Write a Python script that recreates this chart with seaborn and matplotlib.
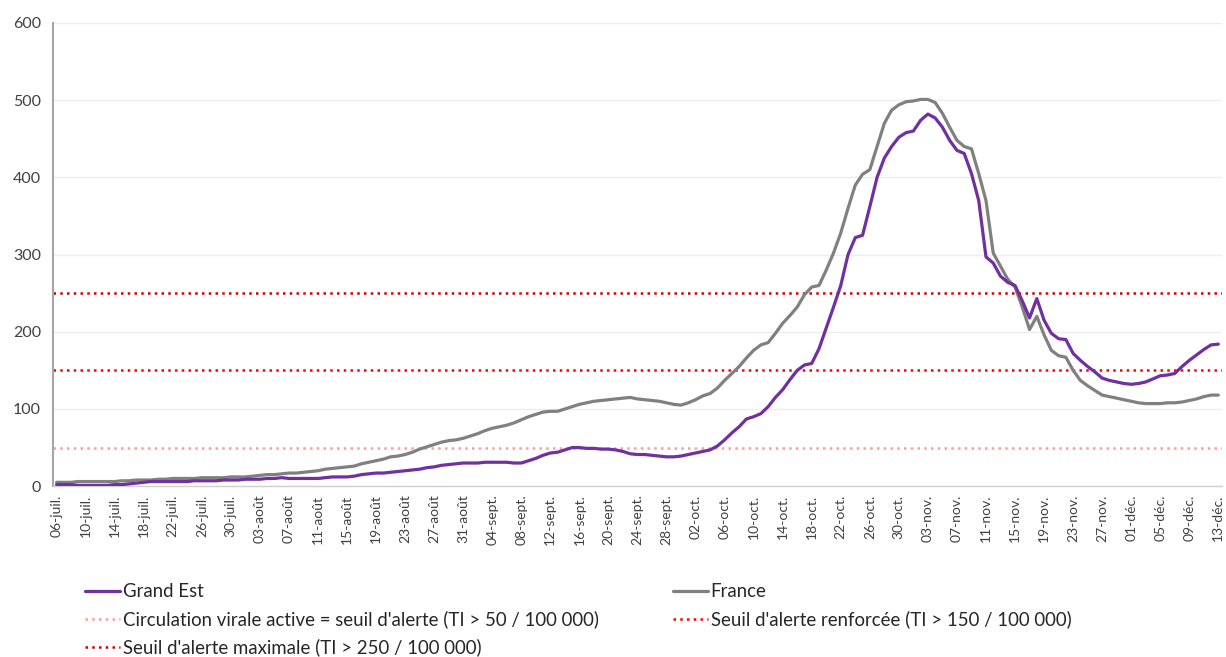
import pandas as pd
import matplotlib.pyplot as plt
import seaborn as sns
from matplotlib.lines import Line2D
from matplotlib.ticker import FixedLocator, MultipleLocator

# Taux d'incidence glissant (pour 100 000 hab.), du 06-juil. au 13-déc. 2020
start = "2020-07-06"

grand_est = [
    2, 2, 2, 1, 1, 1, 1, 1, 2, 2,
    3, 4, 5, 6, 6, 6, 6, 6, 6, 7,
    7, 7, 7, 8, 8, 8, 9, 9, 9, 10,
    10, 11, 10, 10, 10, 10, 10, 11, 12, 12,
    12, 13, 15, 16, 17, 17, 18, 19, 20, 21,
    22, 24, 25, 27, 28, 29, 30, 30, 30, 31,
    31, 31, 31, 30, 30, 33, 36, 40, 43, 44,
    47, 50, 50, 49, 49, 48, 48, 47, 45, 42,
    41, 41, 40, 39, 38, 38, 39, 41, 43, 45,
    47, 52, 60, 69, 77, 87, 90, 94, 103, 115,
    125, 138, 150, 157, 159, 178, 205, 232, 260, 300,
    322, 325, 362, 400, 425, 440, 452, 458, 460, 474,
    482, 477, 465, 448, 435, 431, 405, 370, 297, 289,
    272, 264, 260, 240, 218, 243, 215, 198, 191, 190,
    172, 163, 155, 148, 140, 137, 135, 133, 132, 133,
    135, 139, 143, 144, 146, 155, 163, 170, 177, 183, 184,
]

france = [
    5, 5, 5, 6, 6, 6, 6, 6, 6, 7,
    7, 8, 8, 8, 9, 9, 10, 10, 10, 10,
    11, 11, 11, 11, 12, 12, 12, 13, 14, 15,
    15, 16, 17, 17, 18, 19, 20, 22, 23, 24,
    25, 26, 29, 31, 33, 35, 38, 39, 41, 44,
    48, 51, 54, 57, 59, 60, 62, 65, 68, 72,
    75, 77, 79, 82, 86, 90, 93, 96, 97, 97,
    100, 103, 106, 108, 110, 111, 112, 113, 114, 115,
    113, 112, 111, 110, 108, 106, 105, 108, 112, 117,
    120, 127, 137, 146, 155, 166, 176, 183, 186, 198,
    211, 221, 232, 248, 258, 260, 280, 302, 328, 360,
    390, 404, 410, 440, 470, 487, 494, 498, 499, 501,
    501, 497, 483, 465, 448, 440, 437, 405, 370, 302,
    285, 268, 258, 232, 203, 220, 196, 176, 169, 167,
    150, 137, 130, 124, 118, 116, 114, 112, 110, 108,
    107, 107, 107, 108, 108, 109, 111, 113, 116, 118, 118,
]

seuils = [50, 150, 250]
seuil_labels = [
    "Circulation virale active = seuil d'alerte (TI > 50 / 100 000)",
    "Seuil d'alerte renforcée (TI > 150 / 100 000)",
    "Seuil d'alerte maximale (TI > 250 / 100 000)",
]
seuil_colors = ["#FF9C9C", "#FF0000", "#D00000"]

mois = {7: "juil.", 8: "août", 9: "sept.", 10: "oct.", 11: "nov.", 12: "déc."}
dates = pd.date_range(start, periods=len(grand_est))
labels = [f"{d.day:02d}-{mois[d.month]}" for d in dates]

df = pd.DataFrame({"jour": range(len(dates)), "Grand Est": grand_est, "France": france})

sns.set_style("white")
plt.rcParams["font.family"] = ["Lato", "DejaVu Sans"]

fig = plt.figure(figsize=(12.26, 6.57), dpi=100)
ax = fig.add_axes([0.0432, 0.260, 0.9535, 0.705])

dot = (0, (1, 1.7))
for v, c in zip(seuils, seuil_colors):
    ax.axhline(v, color=c, ls=dot, lw=1.8, zorder=2)

sns.lineplot(data=df, x="jour", y="France", color="#808080", lw=2.3, ax=ax, zorder=3)
sns.lineplot(data=df, x="jour", y="Grand Est", color="#7030A0", lw=2.3, ax=ax, zorder=4)

ax.set_xlim(-0.5, len(dates) - 0.5)
ax.set_ylim(0, 600)
ax.set_xlabel("")
ax.set_ylabel("")

# axe X : libellés tous les 4 jours, graduations tous les 2 jours
pos = list(range(0, len(dates), 4))
ax.xaxis.set_major_locator(FixedLocator(pos))
ax.set_xticklabels([labels[i] for i in pos], rotation=90, fontsize=10, color="#404040")
ax.xaxis.set_minor_locator(FixedLocator([i - 0.5 for i in range(0, len(dates) + 1, 2)]))
ax.tick_params(axis="x", which="major", length=0, pad=6)
ax.tick_params(axis="x", which="minor", length=5, width=1, color="#BFBFBF", direction="out")

# axe Y
ax.yaxis.set_major_locator(MultipleLocator(100))
ax.yaxis.set_minor_locator(MultipleLocator(50))
ax.tick_params(axis="y", which="major", length=9, width=1, color="#A6A6A6", direction="inout",
               labelsize=11.5, labelcolor="#404040", pad=4)
ax.tick_params(axis="y", which="minor", length=8, width=1, color="#A6A6A6", direction="inout")
ax.yaxis.grid(True, color="#EDEDED", lw=1)
ax.set_axisbelow(True)

for s in ["top", "right"]:
    ax.spines[s].set_visible(False)
ax.spines["left"].set_color("#A6A6A6")
ax.spines["left"].set_linewidth(1.5)
ax.spines["bottom"].set_color("#D0D0D0")
ax.spines["bottom"].set_linewidth(1)

h_ge = Line2D([], [], color="#7030A0", lw=2.3)
h_fr = Line2D([], [], color="#808080", lw=2.3)
h_s = [Line2D([], [], color=c, ls=dot, lw=1.8) for c in seuil_colors]
handles = [h_ge, h_s[0], h_s[2], h_fr, h_s[1]]
names = ["Grand Est", seuil_labels[0], seuil_labels[2], "France", seuil_labels[1]]
fig.legend(handles, names, loc="upper left", bbox_to_anchor=(85 / 1226, 0.1126), ncol=2,
           frameon=False, fontsize=13.4, handlelength=1.9, handletextpad=0.12,
           columnspacing=4.0, labelspacing=0.55, borderpad=0, borderaxespad=0,
           labelcolor="#262626")

fig.savefig("out.png", dpi=100)
